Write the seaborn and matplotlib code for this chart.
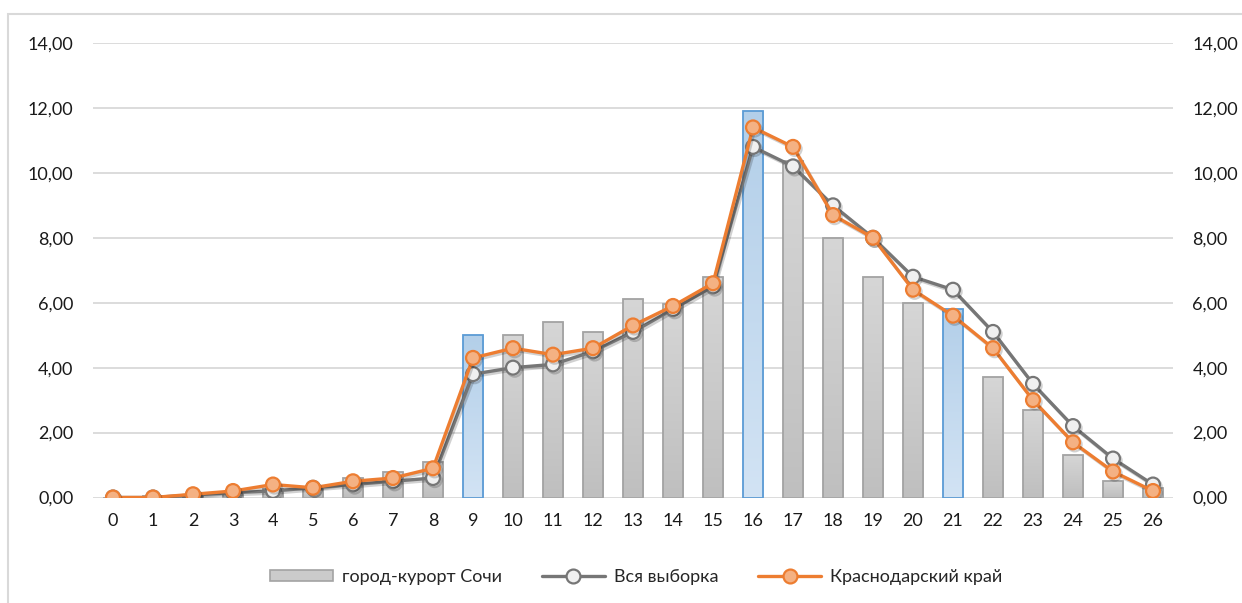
import numpy as np
import pandas as pd
import matplotlib
matplotlib.use("Agg")
import matplotlib.pyplot as plt
import matplotlib.patheffects as pe
from matplotlib.lines import Line2D
from matplotlib.patches import Patch, Rectangle
from matplotlib.colors import LinearSegmentedColormap
import seaborn as sns

# ---- data ----
categories = list(range(27))
sochi = [0.0, 0.05, 0.05, 0.13, 0.27, 0.25, 0.6, 0.8, 1.1, 5.0, 5.0, 5.4, 5.1, 6.1,
         5.95, 6.8, 11.9, 10.35, 8.0, 6.8, 6.0, 5.8, 3.7, 2.7, 1.3, 0.5, 0.3]
whole_sample = [0.0, 0.0, 0.08, 0.15, 0.2, 0.3, 0.4, 0.5, 0.6, 3.8, 4.0, 4.1, 4.5, 5.1,
                5.8, 6.5, 10.8, 10.2, 9.0, 8.0, 6.8, 6.4, 5.1, 3.5, 2.2, 1.2, 0.4]
krasnodar = [0.0, 0.0, 0.1, 0.2, 0.4, 0.3, 0.5, 0.6, 0.9, 4.3, 4.6, 4.4, 4.6, 5.3,
             5.9, 6.6, 11.4, 10.8, 8.7, 8.0, 6.4, 5.6, 4.6, 3.0, 1.7, 0.8, 0.2]
highlighted = [9, 16, 21]
yticks = [0, 2, 4, 6, 8, 10, 12, 14]

label_sochi = "город-курорт Сочи"
label_all = "Вся выборка"
label_kk = "Краснодарский край"

sns.set_theme(style="white")
plt.rcParams["font.family"] = ["Lato", "DejaVu Sans"]

df = pd.DataFrame({"cat": [str(c) for c in categories], "val": sochi})

fig = plt.figure(figsize=(12.42, 6.03), dpi=100)
ax = fig.add_axes([93 / 1242, 1 - 497.5 / 603, 1080 / 1242, 454.5 / 603])

bar_colors = ["#5b9bd5" if c in highlighted else "#a5a5a5" for c in categories]
sns.barplot(data=df, x="cat", y="val", hue="cat", palette=bar_colors, legend=False,
            width=0.52, ax=ax, saturation=1)

gray_cmap = LinearSegmentedColormap.from_list("g", ["#bfbfbf", "#d6d6d6"])
blue_cmap = LinearSegmentedColormap.from_list("b", ["#d2e3f4", "#b3cfe9"])
grad = np.linspace(0, 1, 256).reshape(-1, 1)

for patch, c in zip(ax.patches, categories):
    x0, y0 = patch.get_x(), patch.get_y()
    w, h = patch.get_width(), patch.get_height()
    edge = "#5b9bd5" if c in highlighted else "#a3a3a3"
    patch.set_facecolor("none")
    patch.set_edgecolor(edge)
    patch.set_linewidth(1.3)
    patch.set_zorder(3)
    if h <= 0:
        continue
    im = ax.imshow(grad, cmap=blue_cmap if c in highlighted else gray_cmap,
                   extent=[x0, x0 + w, y0, y0 + h], origin="lower",
                   aspect="auto", zorder=2)
    im.set_clip_path(patch)

shadow = [pe.SimpleLineShadow(offset=(1.2, -1.5), alpha=0.18, shadow_color="black"),
          pe.Normal()]

sns.lineplot(x=categories, y=whole_sample, ax=ax, color="#767676", linewidth=2.4,
             marker="o", markersize=10, markerfacecolor="#f0f0f0",
             markeredgecolor="#767676", markeredgewidth=1.6, zorder=5)
sns.lineplot(x=categories, y=krasnodar, ax=ax, color="#ed7d31", linewidth=2.4,
             marker="o", markersize=10, markerfacecolor="#f4b183",
             markeredgecolor="#ed7d31", markeredgewidth=1.6, zorder=6)
for ln in ax.lines:
    ln.set_path_effects(shadow)

ax.set_xlim(-0.5, 26.5)
ax.set_ylim(0, 14)
ax.set_yticks(yticks)
ax.set_yticklabels([f"{v:.2f}".replace(".", ",") for v in yticks])
ax.yaxis.grid(True, color="#d9d9d9", linewidth=1.3)
ax.set_axisbelow(True)
ax.set_xlabel("")
ax.set_ylabel("")
for s in ax.spines.values():
    s.set_visible(False)
ax.tick_params(axis="y", which="both", left=False, right=False, length=0,
               labelleft=True, labelright=True, pad=14, labelsize=13,
               labelcolor="#1a1a1a")
ax.tick_params(axis="x", bottom=False, length=0, pad=11, labelsize=13,
               labelcolor="#1a1a1a")

handles = [
    Patch(facecolor="#cbcbcb", edgecolor="#a3a3a3", linewidth=1.2),
    Line2D([], [], color="#767676", linewidth=2.4, marker="o", markersize=10,
           markerfacecolor="#f0f0f0", markeredgecolor="#767676", markeredgewidth=1.6),
    Line2D([], [], color="#ed7d31", linewidth=2.4, marker="o", markersize=10,
           markerfacecolor="#f4b183", markeredgecolor="#ed7d31", markeredgewidth=1.6),
]
fig.legend(handles, [label_sochi, label_all, label_kk], loc="center",
           bbox_to_anchor=(636 / 1242, 1 - 577 / 603), ncol=3, frameon=False,
           fontsize=13, handlelength=3.5, handleheight=0.55, handletextpad=0.5,
           columnspacing=2.2)

# light outer frame of the chart area
fig.add_artist(Rectangle((8 / 1242, -0.05), 1.2, 1 - 14 / 603 + 0.05,
                         transform=fig.transFigure, fill=False,
                         edgecolor="#d9d9d9", linewidth=1.5, clip_on=False))

fig.savefig("out.png", dpi=100, facecolor="white")
